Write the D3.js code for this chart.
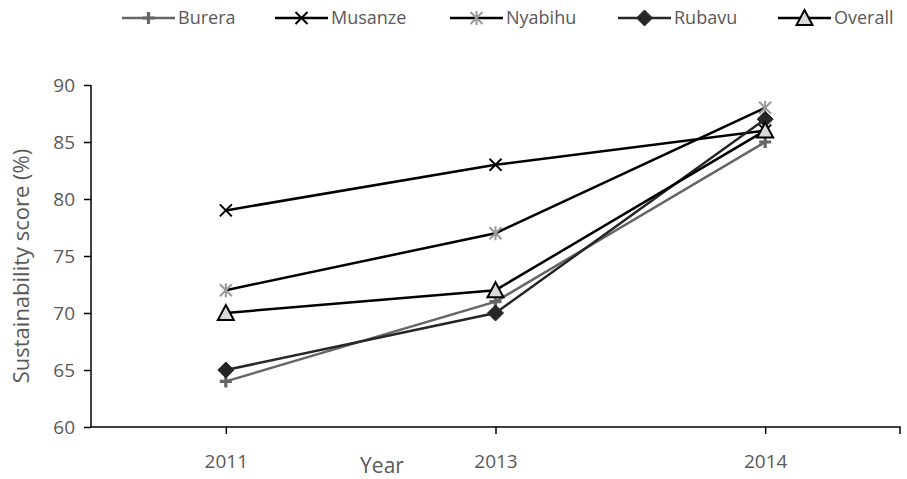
<!DOCTYPE html>
<html>
<head>
<meta charset="utf-8">
<script src="https://cdn.jsdelivr.net/npm/d3@7"></script>
<style>
  html, body { margin: 0; padding: 0; background: #ffffff; }
  svg { display: block; font-family: "Open Sans", sans-serif; }
</style>
</head>
<body>
<svg id="chart" width="907" height="479"></svg>
<script>
// ---- data ----
const years = ["2011", "2013", "2014"];
const seriesNames = ["Burera", "Musanze", "Nyabihu", "Rubavu", "Overall"];
const burera  = [64, 71, 85];
const musanze = [79, 83, 86];
const nyabihu = [72, 77, 88];
const rubavu  = [65, 70, 87];
const overall = [70, 72, 86];
const yTicks = [60, 65, 70, 75, 80, 85, 90];
const xTitle = "Year";
const yTitle = "Sustainability score (%)";

// ---- styles / layout ----
const styles = {
  Burera:  { line: "#666666", marker: "plus" },
  Musanze: { line: "#000000", marker: "x" },
  Nyabihu: { line: "#000000", marker: "star" },
  Rubavu:  { line: "#262626", marker: "diamond" },
  Overall: { line: "#000000", marker: "triangle" }
};
const legendStarts = [122, 275, 450, 618, 778];
const seriesValues = { Burera: burera, Musanze: musanze, Nyabihu: nyabihu, Rubavu: rubavu, Overall: overall };
const series = seriesNames.map(n => ({ name: n, values: seriesValues[n] }));

const svg = d3.select("#chart");
const margin = { left: 91, right: 7, top: 85, bottom: 52 };
const W = 907, H = 479;
const tickFont = "19px";
const titleFont = "22px";
const legendFont = "18px";

const x = d3.scalePoint().domain(years).range([margin.left, W - margin.right]).padding(0.5);
const y = d3.scaleLinear().domain([60, 90]).range([H - margin.bottom, margin.top]);

const textColor = "#595959";

// y axis
const yAxis = svg.append("g")
  .attr("transform", `translate(${margin.left},0)`)
  .call(d3.axisLeft(y).tickValues(yTicks).tickSize(7).tickPadding(9).tickFormat(d3.format("d")));
yAxis.select(".domain").attr("stroke", "#000").attr("stroke-width", 1.5).attr("d", `M0,${y(90)}V${y(60)}`);
yAxis.selectAll(".tick line").attr("stroke", "#000").attr("stroke-width", 1.5);
yAxis.selectAll(".tick text").attr("fill", textColor).style("font-size", tickFont)
  .style("font-family", "'Open Sans', sans-serif");

// x axis
const xAxis = svg.append("g")
  .attr("transform", `translate(0,${y(60)})`)
  .call(d3.axisBottom(x).tickSize(7).tickPadding(21));
xAxis.select(".domain").attr("stroke", "#000").attr("stroke-width", 1.5)
  .attr("d", `M${margin.left},0H${W - margin.right}V7`);
xAxis.selectAll(".tick line").attr("stroke", "#000").attr("stroke-width", 1.5);
xAxis.selectAll(".tick text").attr("fill", textColor).style("font-size", tickFont)
  .style("font-family", "'Open Sans', sans-serif");

// axis titles
svg.append("text")
  .attr("x", 382).attr("y", 473)
  .attr("text-anchor", "middle")
  .attr("fill", textColor).style("font-size", "21px")
  .text(xTitle);
svg.append("text")
  .attr("transform", `translate(29,${(y(60) + y(90)) / 2 + 10}) rotate(-90)`)
  .attr("text-anchor", "middle")
  .attr("fill", textColor).style("font-size", titleFont)
  .text(yTitle);

// marker drawing
function drawMarker(g, type) {
  if (type === "plus") {
    g.append("path").attr("d", "M-6,0H6M0,-6V6").attr("stroke", "#666666").attr("stroke-width", 3.2).attr("fill", "none");
  } else if (type === "x") {
    g.append("path").attr("d", "M-6,-6L6,6M-6,6L6,-6").attr("stroke", "#000").attr("stroke-width", 2).attr("fill", "none");
  } else if (type === "star") {
    g.append("path").attr("d", "M-6,-6L6,6M-6,6L6,-6M0,-7V7").attr("stroke", "#999999").attr("stroke-width", 2).attr("fill", "none");
  } else if (type === "diamond") {
    g.append("path").attr("d", "M0,-8L8,0L0,8L-8,0Z").attr("fill", "#262626").attr("stroke", "#262626").attr("stroke-width", 1);
  } else if (type === "triangle") {
    g.append("path").attr("d", "M0,-8L8,7H-8Z").attr("fill", "#d9d9d9").attr("stroke", "#000").attr("stroke-width", 2).attr("stroke-linejoin", "miter");
  }
}

const line = d3.line().x((d, i) => x(years[i])).y(d => y(d));

series.forEach(s => {
  const st = styles[s.name];
  const g = svg.append("g");
  g.append("path").datum(s.values).attr("d", line).attr("fill", "none")
    .attr("stroke", st.line).attr("stroke-width", 2.5);
  s.values.forEach((v, i) => {
    const mg = g.append("g").attr("transform", `translate(${x(years[i])},${y(v)})`);
    drawMarker(mg, st.marker);
  });
});

// legend
const legend = svg.append("g");
const ly = 18;
series.forEach((s, i) => {
  const st = styles[s.name];
  const lx = legendStarts[i];
  const g = legend.append("g");
  g.append("line").attr("x1", lx).attr("x2", lx + 53).attr("y1", ly).attr("y2", ly)
    .attr("stroke", st.line).attr("stroke-width", 2.5);
  const mg = g.append("g").attr("transform", `translate(${lx + 26.5},${ly})`);
  drawMarker(mg, st.marker);
  g.append("text").attr("x", lx + 56).attr("y", ly + 6)
    .attr("fill", textColor).style("font-size", legendFont).text(s.name);
});
</script>
</body>
</html>
